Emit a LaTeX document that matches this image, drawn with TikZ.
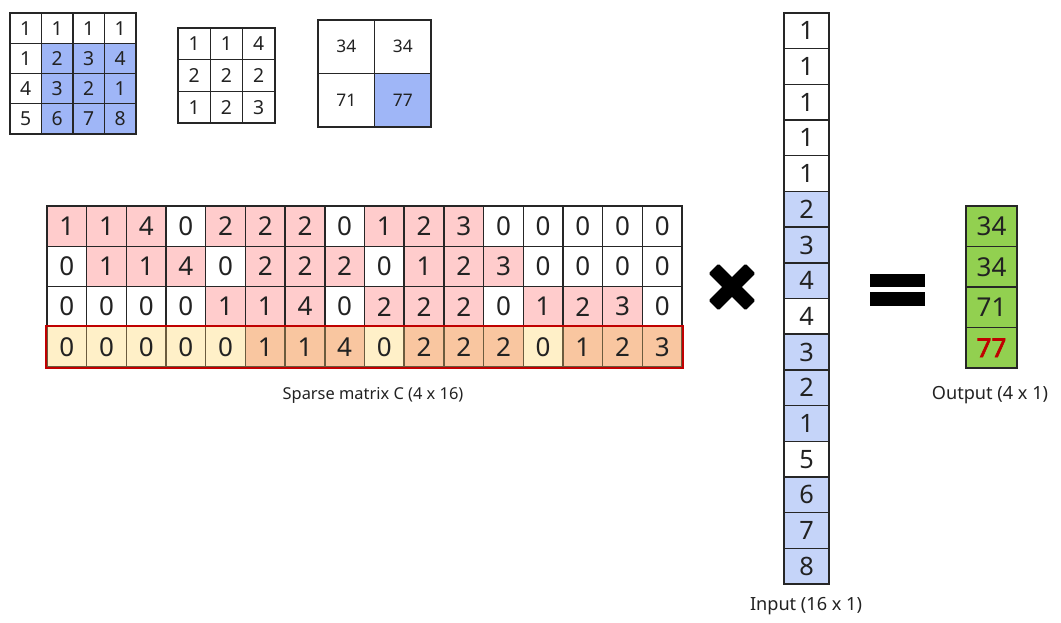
\documentclass[tikz,border=0pt]{standalone}
\usepackage{fontspec}
\setmainfont{Noto Sans}
\newfontfamily\fakebold{Noto Sans}[FakeBold=2.5]
\definecolor{cW}{HTML}{FFFFFF}
\definecolor{cP}{HTML}{FFCCCC}
\definecolor{cY}{HTML}{FFF0C8}
\definecolor{cO}{HTML}{F9C6A0}
\definecolor{cB}{HTML}{9FB6F7}
\definecolor{cL}{HTML}{C5D4F9}
\definecolor{cG}{HTML}{92D050}
\definecolor{cR}{HTML}{C00000}
\definecolor{cT}{HTML}{222222}
\definecolor{cBr}{HTML}{6B5B3E}
\begin{document}
\begin{tikzpicture}[x=0.75pt,y=-0.75pt,
  cell/.style={draw=black!85, line width=1.1pt, inner sep=0pt, text=cT},
  lbl/.style={text=cT, inner sep=0pt, font=\fontsize{13}{13}\selectfont}]
\useasboundingbox (0,0) rectangle (1061,623);
% grid A (4x4 input image)
\foreach \row [count=\r] in {{1/W,1/W,1/W,1/W},{1/W,2/B,3/B,4/B},{4/W,3/B,2/B,1/B},{5/W,6/B,7/B,8/B}} {
  \foreach \v/\f [count=\c] in \row {
    \node[cell, fill=c\f, minimum width=31.5*0.75pt, minimum height=30.25*0.75pt,
      font=\fontsize{14.5}{14.5}\selectfont] (a-\r-\c) at ({10+31.5*(\c-0.5)},{13+30.25*(\r-0.5)}) {\v};
  }}
% grid K (3x3 kernel)
\foreach \row [count=\r] in {{1,1,4},{2,2,2},{1,2,3}} {
  \foreach \v [count=\c] in \row {
    \node[cell, fill=white, minimum width=32.3*0.75pt, minimum height=31.7*0.75pt,
      font=\fontsize{14.5}{14.5}\selectfont] (k-\r-\c) at ({178+32.3*(\c-0.5)},{28+31.7*(\r-0.5)}) {\v};
  }}
% grid O (2x2 output)
\foreach \row [count=\r] in {{34/W,34/W},{71/W,77/B}} {
  \foreach \v/\f [count=\c] in \row {
    \node[cell, fill=c\f, minimum width=56.5*0.75pt, minimum height=53.5*0.75pt,
      font=\fontsize{13}{13}\selectfont] (o-\r-\c) at ({318+56.5*(\c-0.5)},{20+53.5*(\r-0.5)}) {\v};
  }}
% sparse matrix
\foreach \row [count=\r] in {
  {1/P,1/P,4/P,0/W,2/P,2/P,2/P,0/W,1/P,2/P,3/P,0/W,0/W,0/W,0/W,0/W},
  {0/W,1/P,1/P,4/P,0/W,2/P,2/P,2/P,0/W,1/P,2/P,3/P,0/W,0/W,0/W,0/W},
  {0/W,0/W,0/W,0/W,1/P,1/P,4/P,0/W,2/P,2/P,2/P,0/W,1/P,2/P,3/P,0/W}} {
  \foreach \v/\f [count=\c] in \row {
    \node[cell, fill=c\f, minimum width=39.69*0.75pt, minimum height=40.25*0.75pt,
      font=\fontsize{19.5}{19.5}\selectfont] (s-\r-\c) at ({47+39.69*(\c-0.5)},{206+40.25*(\r-0.5)}) {\v};
  }}
\foreach \v/\f [count=\c] in {0/Y,0/Y,0/Y,0/Y,0/Y,1/O,1/O,4/O,0/Y,2/O,2/O,2/O,0/Y,1/O,2/O,3/O} {
  \node[cell, draw=cBr, fill=c\f, minimum width=39.69*0.75pt, minimum height=40.25*0.75pt,
    font=\fontsize{19.5}{19.5}\selectfont] (s-4-\c) at ({47+39.69*(\c-0.5)},{206+40.25*3.5}) {\v};
}
\draw[cR, line width=1.6pt] (s-4-1.north west) rectangle (s-4-16.south east);
\node[lbl, font=\fontsize{12.3}{12.3}\selectfont] (slabel) at (373,395) {Sparse matrix C (4 x 16)};
% multiply sign
\fill[rounded corners=1pt, rotate around={45:(732,287)}] (706,280) rectangle (758,294);
\fill[rounded corners=1pt, rotate around={-45:(732,287)}] (706,280) rectangle (758,294);
% input vector
\foreach \v/\f [count=\c] in {1/W,1/W,1/W,1/W,1/W,2/L,3/L,4/L,4/W,3/L,2/L,1/L,5/W,6/L,7/L,8/L} {
  \node[cell, fill=c\f, minimum width=45*0.75pt, minimum height=35.69*0.75pt,
    font=\fontsize{19}{19}\selectfont] (i-\c) at (806.5,{13+35.69*(\c-0.5)}) {\v};
}
\node[lbl, font=\fontsize{13.6}{13.6}\selectfont] (ilabel) at (806,606) {Input (16 x 1)};
% equals sign
\fill (870,274) rectangle (925,287);
\fill (870,292) rectangle (925,306);
% output vector
\foreach \v [count=\c] in {34,34,71} {
  \node[cell, fill=cG, minimum width=51*0.75pt, minimum height=40.5*0.75pt,
    font=\fontsize{19.5}{19.5}\selectfont] (y-\c) at (991.5,{206+40.5*(\c-0.5)}) {\v};
}
\node[cell, fill=cG, minimum width=51*0.75pt, minimum height=40.5*0.75pt, text=cR,
  font=\fontsize{19.5}{19.5}\fakebold] (y-4) at (991.5,{206+40.5*3.5}) {77};
\node[lbl, font=\fontsize{13.6}{13.6}\selectfont] (ylabel) at (990,395) {Output (4 x 1)};
\end{tikzpicture}
\end{document}
